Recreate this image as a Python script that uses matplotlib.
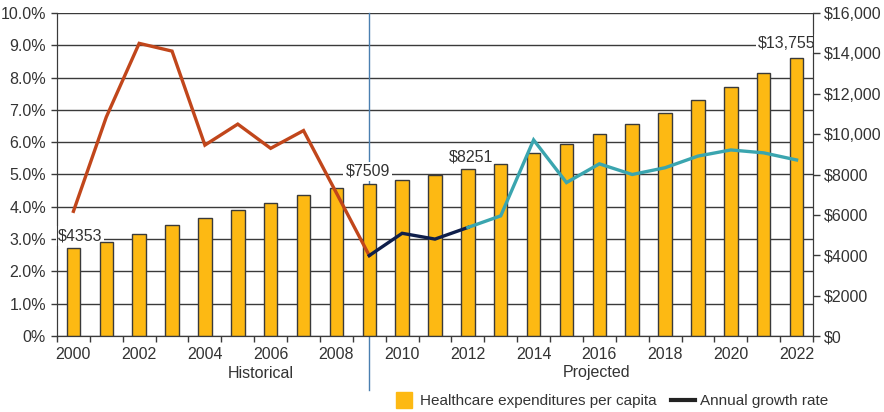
import numpy as np
import matplotlib
matplotlib.use("Agg")
import matplotlib.pyplot as plt
from matplotlib.lines import Line2D

plt.rcParams['font.family'] = ['Liberation Sans', 'DejaVu Sans']
plt.rcParams['font.size'] = 11.5
plt.rcParams['text.color'] = '#333333'

years = list(range(2000, 2023))
spending = [4353, 4640, 5070, 5515, 5830, 6225, 6570, 7000, 7315, 7509,
            7725, 7970, 8251, 8535, 9045, 9490, 9990, 10500, 11045, 11670,
            12320, 13040, 13755]
growth = [3.86, 6.78, 9.06, 8.82, 5.91, 6.56, 5.81, 6.36, 4.43, 2.49,
          3.18, 3.00, 3.36, 3.72, 6.07, 4.75, 5.33, 5.00, 5.21, 5.57,
          5.76, 5.67, 5.45]
labeled = {0: "$4353", 9: "$7509", 12: "$8251", 22: "$13,755"}
left_ticks = [0, 1, 2, 3, 4, 5, 6, 7, 8, 9, 10]
left_labels = ["0%", "1.0%", "2.0%", "3.0%", "4.0%", "5.0%", "6.0%",
               "7.0%", "8.0%", "9.0%", "10.0%"]
right_ticks = [0, 2000, 4000, 6000, 8000, 10000, 12000, 14000, 16000]
right_labels = ["$0", "$2000", "$4000", "$6000", "$8000", "$10,000",
                "$12,000", "$14,000", "$16,000"]

bar_color = '#FDB913'
c_hist = '#C1461B'
c_mid = '#0F1F4B'
c_proj = '#3AA5AF'
grid_c = '#3a3a3a'
txt_c = '#333333'

x = np.arange(len(years))
fig = plt.figure(figsize=(8.84, 4.12), dpi=100)
ax = fig.add_axes([57/884, 1-336/412, (813-57)/884, (336-13)/412])

# percent axis (grid + left labels)
ax.set_ylim(0, 10)
ax.set_xlim(-0.5, len(years) - 0.5)
ax.set_yticks(left_ticks)
ax.set_yticklabels(left_labels, color=txt_c)
ax.yaxis.grid(True, color=grid_c, lw=1)
ax.tick_params(axis='y', length=4, width=1, color=grid_c, pad=4)
ax.set_xticks(x[::2])
ax.set_xticklabels([str(y) for y in years[::2]], color=txt_c)
ax.set_xticks(np.arange(-0.5, len(years)), minor=True)
ax.tick_params(axis='x', which='major', length=0, pad=8)
ax.tick_params(axis='x', which='minor', length=4, width=1, color=grid_c)
ax.spines['top'].set_visible(False)
for s in ['left', 'right', 'bottom']:
    ax.spines[s].set_color(grid_c)
# divider between historical and projected, behind the bars
ax.axvline(9, ymin=-0.167, ymax=1, color='#4a7fb0', lw=1, clip_on=False)

# bar axis (right labels)
ax2 = ax.twinx()
ax2.bar(x, spending, width=0.41, color=bar_color, edgecolor='#3a3a3a', lw=1, zorder=2)
ax2.set_ylim(0, 16000)
ax2.set_yticks(right_ticks)
ax2.set_yticklabels(right_labels, color=txt_c)
ax2.tick_params(axis='y', length=5, width=1, color=grid_c, pad=3)
ax2.spines['top'].set_visible(False)
for s in ['left', 'right', 'bottom']:
    ax2.spines[s].set_color(grid_c)

offsets = {0: (0.2, 600), 9: (-0.05, 650), 12: (0.1, 600), 22: (-0.3, 720)}
for i, lab in labeled.items():
    dx, dy = offsets[i]
    ax2.text(x[i] + dx, spending[i] + dy, lab, ha='center', va='center',
             color=txt_c, zorder=1,
             bbox=dict(facecolor='white', edgecolor='none', pad=1.5))

# line axis
ax3 = ax.twinx()
ax3.set_ylim(0, 10)
ax3.axis('off')
ax3.plot(x[:10], growth[:10], color=c_hist, lw=2.4, solid_joinstyle='miter')
ax3.plot(x[9:13], growth[9:13], color=c_mid, lw=2.4, solid_joinstyle='miter')
ax3.plot(x[12:], growth[12:], color=c_proj, lw=2.4, solid_joinstyle='miter')

fig.text(261/884, 1-373/412, "Historical", ha='center', va='center', color=txt_c)
fig.text(597/884, 1-373/412, "Projected", ha='center', va='center', color=txt_c)

handles = [Line2D([], [], marker='s', color=bar_color, linestyle='none', markersize=12),
           Line2D([], [], color='#222222', lw=3)]
fig.legend(handles, ["Healthcare expenditures per capita", "Annual growth rate"],
           loc='center right', bbox_to_anchor=(828/884, 1-401/412), ncol=2,
           frameon=False, handlelength=1.6, handletextpad=0.3, columnspacing=0.9,
           borderaxespad=0, borderpad=0, labelcolor=txt_c, fontsize=11)

fig.savefig("out.png", dpi=100)
